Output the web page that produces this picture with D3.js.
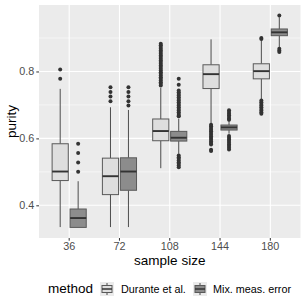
<!DOCTYPE html>
<html>
<head>
<meta charset="utf-8">
<script src="https://cdn.jsdelivr.net/npm/d3@7"></script>
<style>
  body { margin: 0; background: #fff; }
  text { font-family: "Liberation Sans", Arial, sans-serif; }
</style>
</head>
<body>
<svg id="chart" width="305" height="305"></svg>
<script>
// sample sizes (x categories) and the two methods
const sampleSizes = ["36", "72", "108", "144", "180"];
const methods = ["Durante et al.", "Mix. meas. error"];

// box stats for Durante et al.
const durLower  = [0.335, 0.335, 0.511, 0.644, 0.716];
const durQ1     = [0.474, 0.432, 0.593, 0.749, 0.778];
const durMedian = [0.501, 0.487, 0.622, 0.792, 0.801];
const durQ3     = [0.584, 0.541, 0.658, 0.820, 0.823];
const durUpper  = [0.748, 0.693, 0.751, 0.896, 0.893];
const durOutliers = [
  [0.806, 0.778],
  [0.753, 0.739, 0.725, 0.711],
  [0.883, 0.878, 0.873, 0.868, 0.863, 0.858, 0.853, 0.848, 0.843, 0.838, 0.833, 0.828, 0.823,
   0.818, 0.813, 0.808, 0.803, 0.798, 0.793, 0.788, 0.783, 0.778, 0.773, 0.768, 0.763, 0.758],
  [0.641, 0.636, 0.631, 0.626, 0.621, 0.616, 0.611, 0.606, 0.601, 0.596, 0.591, 0.586, 0.582,
   0.566, 0.562],
  [0.900, 0.897, 0.713, 0.708, 0.703, 0.698, 0.693, 0.688, 0.683, 0.678, 0.674]
];

// box stats for Mix. meas. error
const mixLower  = [0.334, 0.335, 0.554, 0.614, 0.873];
const mixQ1     = [0.334, 0.445, 0.592, 0.625, 0.907];
const mixMedian = [0.362, 0.501, 0.602, 0.633, 0.917];
const mixQ3     = [0.389, 0.542, 0.621, 0.640, 0.927];
const mixUpper  = [0.472, 0.685, 0.659, 0.654, 0.962];
const mixOutliers = [
  [0.584, 0.556, 0.528, 0.500],
  [0.753, 0.739, 0.725, 0.711, 0.698],
  [0.778, 0.760, 0.743, 0.738, 0.733, 0.728, 0.723, 0.718, 0.713, 0.708, 0.703, 0.698, 0.693,
   0.688, 0.683, 0.678, 0.673, 0.668, 0.666,
   0.549, 0.544, 0.539, 0.534, 0.529, 0.524, 0.519, 0.514],
  [0.684, 0.679, 0.674, 0.669, 0.664, 0.659, 0.656,
   0.607, 0.602, 0.597, 0.592, 0.587, 0.582, 0.577, 0.572, 0.567],
  [0.967, 0.868, 0.863, 0.858]
];

const yTicks = [0.4, 0.6, 0.8];
const yMinor = [0.3, 0.5, 0.7, 0.9];

const fills = { "Durante et al.": "#dedede", "Mix. meas. error": "#8c8c8c" };

const boxes = [];
sampleSizes.forEach((s, i) => {
  boxes.push({ size: s, method: methods[0], lower: durLower[i], q1: durQ1[i], median: durMedian[i],
               q3: durQ3[i], upper: durUpper[i], outliers: durOutliers[i] });
  boxes.push({ size: s, method: methods[1], lower: mixLower[i], q1: mixQ1[i], median: mixMedian[i],
               q3: mixQ3[i], upper: mixUpper[i], outliers: mixOutliers[i] });
});

const svg = d3.select('#chart');
const panel = { left: 39, right: 300.5, top: 5, bottom: 238 };

// x: discrete scale with ggplot's 0.6 unit expansion
const x = d3.scaleBand()
  .domain(sampleSizes)
  .range([panel.left, panel.right])
  .paddingInner(0)
  .paddingOuter(0.1);
const dodge = d3.scaleBand()
  .domain(methods)
  .range([-0.375 * x.bandwidth(), 0.375 * x.bandwidth()])
  .padding(0.1);

// y: continuous with 5% expansion
const allVals = boxes.flatMap(b => [b.lower, b.upper, ...b.outliers]);
const ext = d3.extent(allVals);
const pad = (ext[1] - ext[0]) * 0.05;
const y = d3.scaleLinear()
  .domain([ext[0] - pad, ext[1] + pad])
  .range([panel.bottom, panel.top]);

// panel background + grid
svg.append('rect')
  .attr('x', panel.left).attr('y', panel.top)
  .attr('width', panel.right - panel.left).attr('height', panel.bottom - panel.top)
  .attr('fill', '#ebebeb');

const grid = svg.append('g');
grid.selectAll('line.minor')
  .data(yMinor.filter(v => y(v) <= panel.bottom && y(v) >= panel.top))
  .enter().append('line')
  .attr('x1', panel.left).attr('x2', panel.right)
  .attr('y1', d => y(d)).attr('y2', d => y(d))
  .attr('stroke', '#fff').attr('stroke-width', 0.55);
grid.selectAll('line.major')
  .data(yTicks)
  .enter().append('line')
  .attr('x1', panel.left).attr('x2', panel.right)
  .attr('y1', d => y(d)).attr('y2', d => y(d))
  .attr('stroke', '#fff').attr('stroke-width', 1.1);
grid.selectAll('line.vert')
  .data(sampleSizes)
  .enter().append('line')
  .attr('x1', d => x(d) + x.bandwidth() / 2).attr('x2', d => x(d) + x.bandwidth() / 2)
  .attr('y1', panel.top).attr('y2', panel.bottom)
  .attr('stroke', '#fff').attr('stroke-width', 1.1);

// boxplots
const cx = b => x(b.size) + x.bandwidth() / 2 + dodge(b.method) + dodge.bandwidth() / 2;
const bw = dodge.bandwidth();

const g = svg.selectAll('g.box')
  .data(boxes)
  .enter().append('g');

g.append('line')
  .attr('x1', cx).attr('x2', cx)
  .attr('y1', d => y(d.upper)).attr('y2', d => y(d.q3))
  .attr('stroke', '#4d4d4d').attr('stroke-width', 1);
g.append('line')
  .attr('x1', cx).attr('x2', cx)
  .attr('y1', d => y(d.q1)).attr('y2', d => y(d.lower))
  .attr('stroke', '#4d4d4d').attr('stroke-width', 1);
g.append('rect')
  .attr('x', d => cx(d) - bw / 2).attr('width', bw)
  .attr('y', d => y(d.q3)).attr('height', d => y(d.q1) - y(d.q3))
  .attr('fill', d => fills[d.method])
  .attr('stroke', '#595959').attr('stroke-width', 1);
g.append('line')
  .attr('x1', d => cx(d) - bw / 2).attr('x2', d => cx(d) + bw / 2)
  .attr('y1', d => y(d.median)).attr('y2', d => y(d.median))
  .attr('stroke', '#333').attr('stroke-width', 1.9);
g.selectAll('circle')
  .data(d => d.outliers.map(v => ({ v, b: d })))
  .enter().append('circle')
  .attr('cx', d => cx(d.b)).attr('cy', d => y(d.v))
  .attr('r', 2).attr('fill', '#333');

// axes
const yAxis = svg.append('g')
  .attr('transform', `translate(${panel.left},0)`)
  .call(d3.axisLeft(y).tickValues(yTicks).tickSize(2.7).tickPadding(2).tickFormat(d3.format('.1f')));
const xAxis = svg.append('g')
  .attr('transform', `translate(0,${panel.bottom})`)
  .call(d3.axisBottom(x).tickSize(2.7).tickPadding(2));
[yAxis, xAxis].forEach(a => {
  a.select('.domain').remove();
  a.selectAll('.tick line').attr('stroke', '#333');
  a.selectAll('.tick text').attr('fill', '#4d4d4d').attr('font-size', 10.8)
    .style('font-family', '"Liberation Sans", Arial, sans-serif');
});

svg.append('text')
  .attr('transform', `translate(16,${(panel.top + panel.bottom) / 2}) rotate(-90)`)
  .attr('text-anchor', 'middle')
  .attr('font-size', 13.5)
  .text('purity');
svg.append('text')
  .attr('x', (panel.left + panel.right) / 2).attr('y', 265)
  .attr('text-anchor', 'middle')
  .attr('font-size', 13.5)
  .text('sample size');

// legend
const legend = svg.append('g');
legend.append('text')
  .attr('x', 48).attr('y', 293)
  .attr('font-size', 13.5)
  .text('method');
const keyX = [100, 193];
const labelX = [121, 213];
methods.forEach((m, i) => {
  const k = legend.append('g').attr('transform', `translate(${keyX[i]},282)`);
  k.append('rect').attr('width', 14).attr('height', 14).attr('fill', '#ebebeb');
  k.append('line').attr('x1', 7).attr('x2', 7).attr('y1', 1).attr('y2', 13)
    .attr('stroke', '#4d4d4d');
  k.append('rect').attr('x', 2).attr('y', 3.5).attr('width', 10).attr('height', 7)
    .attr('fill', fills[m]).attr('stroke', '#595959');
  k.append('line').attr('x1', 2).attr('x2', 12).attr('y1', 7).attr('y2', 7)
    .attr('stroke', '#333').attr('stroke-width', 1.5);
  legend.append('text')
    .attr('x', labelX[i]).attr('y', 292.5)
    .attr('font-size', 10.8)
    .text(m);
});
</script>
</body>
</html>
